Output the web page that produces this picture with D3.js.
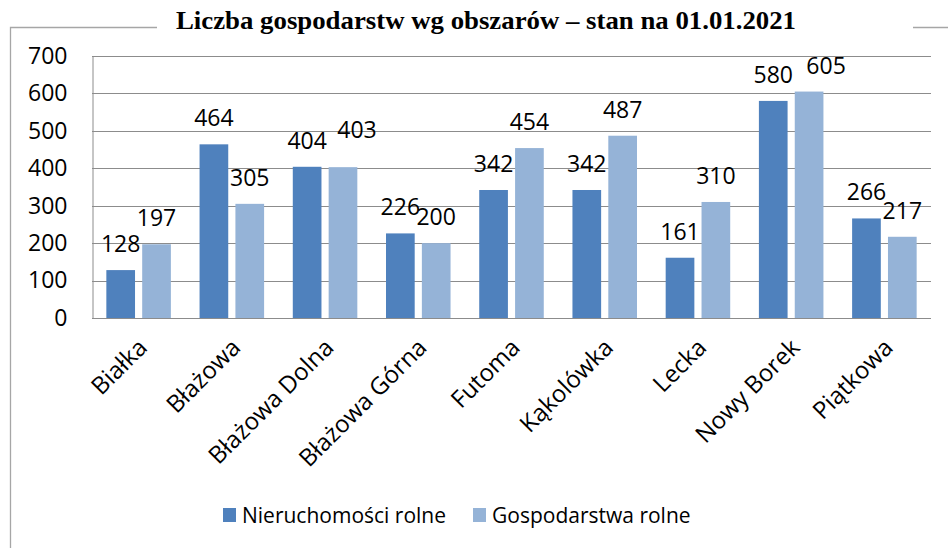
<!DOCTYPE html>
<html>
<head>
<meta charset="utf-8">
<script src="https://cdn.jsdelivr.net/npm/d3@7"></script>
<style>
  html, body { margin: 0; padding: 0; background: #fff; }
  svg { display: block; }
</style>
</head>
<body>
<div id="chart"></div>
<script>
// ---- data ----
const categories = ["Białka", "Błażowa", "Błażowa Dolna", "Błażowa Górna", "Futoma",
                    "Kąkolówka", "Lecka", "Nowy Borek", "Piątkowa"];
const seriesNames = ["Nieruchomości rolne", "Gospodarstwa rolne"];
const nieruchomosci = [128, 464, 404, 226, 342, 342, 161, 580, 266];
const gospodarstwa  = [197, 305, 403, 200, 454, 487, 310, 605, 217];
const yTicks = [0, 100, 200, 300, 400, 500, 600, 700];
const titleText = "Liczba gospodarstw wg obszarów – stan na 01.01.2021";

const width = 948, height = 548;
const colors = ["#4f81bd", "#95b3d7"];
const font = "'Open Sans', sans-serif";

// labels that were moved by hand in the original
const labelNudge = { "Błażowa Dolna|1": [14, -11], "Nowy Borek|1": [17, 0] };

const svg = d3.select("#chart").append("svg")
  .attr("width", width)
  .attr("height", height);

// outer frame (broken by the title)
svg.append("path")
  .attr("d", "M157,27.5 H10.5 V548 M913,27.5 H948")
  .attr("fill", "none")
  .attr("stroke", "#a6a6a6")
  .attr("stroke-width", 1.3);

svg.append("text")
  .attr("x", 486)
  .attr("y", 29)
  .attr("text-anchor", "middle")
  .attr("font-family", "'Liberation Serif', 'Times New Roman', serif")
  .attr("font-weight", "bold")
  .attr("font-size", 25)
  .attr("textLength", 620)
  .attr("lengthAdjust", "spacingAndGlyphs")
  .attr("fill", "#000")
  .text(titleText);

const plot = { left: 92, right: 931, top: 56, bottom: 318 };

const x = d3.scaleBand().domain(categories).range([plot.left, plot.right]);
const x1 = d3.scaleBand().domain([0, 1]).range([0, x.bandwidth()])
  .paddingInner(0.2).paddingOuter(0.4);
const y = d3.scaleLinear().domain([0, 700]).range([plot.bottom, plot.top]);

// gridlines
svg.append("g")
  .selectAll("line")
  .data(yTicks)
  .join("line")
  .attr("x1", plot.left).attr("x2", plot.right)
  .attr("y1", d => Math.round(y(d)) + 0.5)
  .attr("y2", d => Math.round(y(d)) + 0.5)
  .attr("stroke", "#8c8c8c")
  .attr("stroke-width", 1);

// y axis
const yAxis = svg.append("g")
  .attr("transform", `translate(${plot.left + 0.5},0)`)
  .call(d3.axisLeft(y).tickValues(yTicks).tickSize(0).tickPadding(25));
yAxis.select(".domain").attr("stroke", "#8c8c8c");
yAxis.selectAll("text")
  .attr("font-family", font)
  .attr("font-size", 23)
  .attr("fill", "#000");

// bars
const rows = categories.map((c, i) => ({ cat: c, vals: [nieruchomosci[i], gospodarstwa[i]] }));

const groups = svg.append("g")
  .selectAll("g")
  .data(rows)
  .join("g")
  .attr("transform", d => `translate(${x(d.cat)},0)`);

groups.selectAll("rect")
  .data(d => d.vals.map((v, s) => ({ cat: d.cat, s, v })))
  .join("rect")
  .attr("x", d => x1(d.s))
  .attr("width", x1.bandwidth())
  .attr("y", d => y(d.v))
  .attr("height", d => y(0) - y(d.v))
  .attr("fill", d => colors[d.s]);

groups.selectAll("text")
  .data(d => d.vals.map((v, s) => ({ cat: d.cat, s, v })))
  .join("text")
  .attr("x", d => x1(d.s) + x1.bandwidth() / 2 + (labelNudge[d.cat + "|" + d.s] || [0, 0])[0])
  .attr("y", d => y(d.v) - 18 + (labelNudge[d.cat + "|" + d.s] || [0, 0])[1])
  .attr("text-anchor", "middle")
  .attr("font-family", font)
  .attr("font-size", 23)
  .attr("fill", "#000")
  .text(d => d.v);

// x axis base line
svg.append("line")
  .attr("x1", plot.left).attr("x2", plot.right)
  .attr("y1", plot.bottom + 0.5).attr("y2", plot.bottom + 0.5)
  .attr("stroke", "#8c8c8c");

// category labels
svg.append("g")
  .selectAll("text")
  .data(categories)
  .join("text")
  .attr("transform", d => `translate(${x(d) + x.bandwidth() / 2 + 10},${plot.bottom + 31}) rotate(-45)`)
  .attr("text-anchor", "end")
  .attr("font-family", font)
  .attr("font-size", 24)
  .attr("fill", "#000")
  .text(d => d);

// legend
const legendX = [223, 473];
const legend = svg.append("g")
  .selectAll("g")
  .data(seriesNames)
  .join("g")
  .attr("transform", (d, i) => `translate(${legendX[i]},508)`);
legend.append("rect")
  .attr("width", 13).attr("height", 14)
  .attr("fill", (d, i) => colors[i]);
legend.append("text")
  .attr("x", 19)
  .attr("y", 15)
  .attr("font-family", font)
  .attr("font-size", 21)
  .attr("fill", "#000")
  .text(d => d);
</script>
</body>
</html>
